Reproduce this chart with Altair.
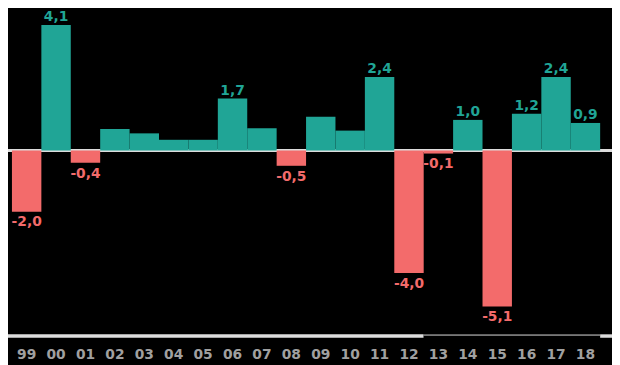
import altair as alt
import pandas as pd

years = ["99", "00", "01", "02", "03", "04", "05", "06", "07", "08",
         "09", "10", "11", "12", "13", "14", "15", "16", "17", "18"]
values = [-2.0, 4.1, -0.4, 0.7, 0.56, 0.35, 0.35, 1.7, 0.73, -0.5,
          1.1, 0.65, 2.4, -4.0, -0.1, 1.0, -5.1, 1.2, 2.4, 0.9]
labels = ["-2,0", "4,1", "-0,4", "", "", "", "", "1,7", "", "-0,5",
          "", "", "2,4", "-4,0", "-0,1", "1,0", "-5,1", "1,2", "2,4", "0,9"]

TEAL = "#20a596"
RED = "#f36b6b"
LINE = "#dcdcdc"
FONT = "DejaVu Sans"

df = pd.DataFrame({"year": years, "value": values, "label": labels})
df["sign"] = ["pos" if v >= 0 else "neg" for v in values]

W, H = 612, 330
unit = 31.0
zero_px = 142
y_top = zero_px / unit
y_bot = -(H - zero_px) / unit

x = alt.X("year:N", sort=years, axis=None,
          scale=alt.Scale(range=[4, 600], paddingInner=0, paddingOuter=0))
y_scale = alt.Scale(domain=[y_bot, y_top], nice=False, zero=False)
color = alt.Color("sign:N", scale=alt.Scale(domain=["pos", "neg"], range=[TEAL, RED]), legend=None)

base = alt.Chart(df)

zero_line = alt.Chart(pd.DataFrame({"v": [0]})).mark_rule(color=LINE, strokeWidth=3).encode(
    y=alt.Y("v:Q", scale=y_scale, axis=None),
    x=alt.value(-8), x2=alt.value(W + 8))

bars = base.mark_bar(size=29.8, strokeWidth=0).encode(
    x=x,
    y=alt.Y("value:Q", scale=y_scale, axis=None),
    y2=alt.datum(0),
    color=color)

pos_labels = base.transform_filter("datum.value >= 0 && datum.label != ''").mark_text(
    font=FONT, fontWeight="bold", fontSize=14, baseline="alphabetic", dy=-4, color=TEAL
).encode(x=x, y=alt.Y("value:Q", scale=y_scale), text="label:N")

neg_labels = base.transform_filter("datum.value < 0 && datum.label != ''").mark_text(
    font=FONT, fontWeight="bold", fontSize=14, baseline="top", dy=4, color=RED
).encode(x=x, y=alt.Y("value:Q", scale=y_scale), text="label:N")

bottom_thick1 = alt.Chart(pd.DataFrame({"a": [0]})).mark_rule(color=LINE, strokeWidth=3.5).encode(
    x=alt.value(-8), x2=alt.value(421), y=alt.value(H))
bottom_thin = alt.Chart(pd.DataFrame({"a": [0]})).mark_rule(color=LINE, strokeWidth=1).encode(
    x=alt.value(421), x2=alt.value(600), y=alt.value(H - 1))
bottom_thick2 = alt.Chart(pd.DataFrame({"a": [0]})).mark_rule(color=LINE, strokeWidth=3.5).encode(
    x=alt.value(600), x2=alt.value(W + 8), y=alt.value(H))

ticks = base.mark_text(
    font=FONT, fontWeight="bold", fontSize=14, baseline="middle", color="#a0a0a0"
).encode(x=x, y=alt.value(H + 19), text="year:N")

chart = alt.layer(zero_line, bars, pos_labels, neg_labels,
                  bottom_thick1, bottom_thin, bottom_thick2, ticks).properties(
    width=W, height=H, background="black",
    padding={"left": 0, "top": 0, "right": 0, "bottom": 30},
    autosize=alt.AutoSizeParams(type="none")
).configure_view(stroke=None, clip=False)

chart.save("out.html", embed_options={"renderer": "svg", "actions": False})
